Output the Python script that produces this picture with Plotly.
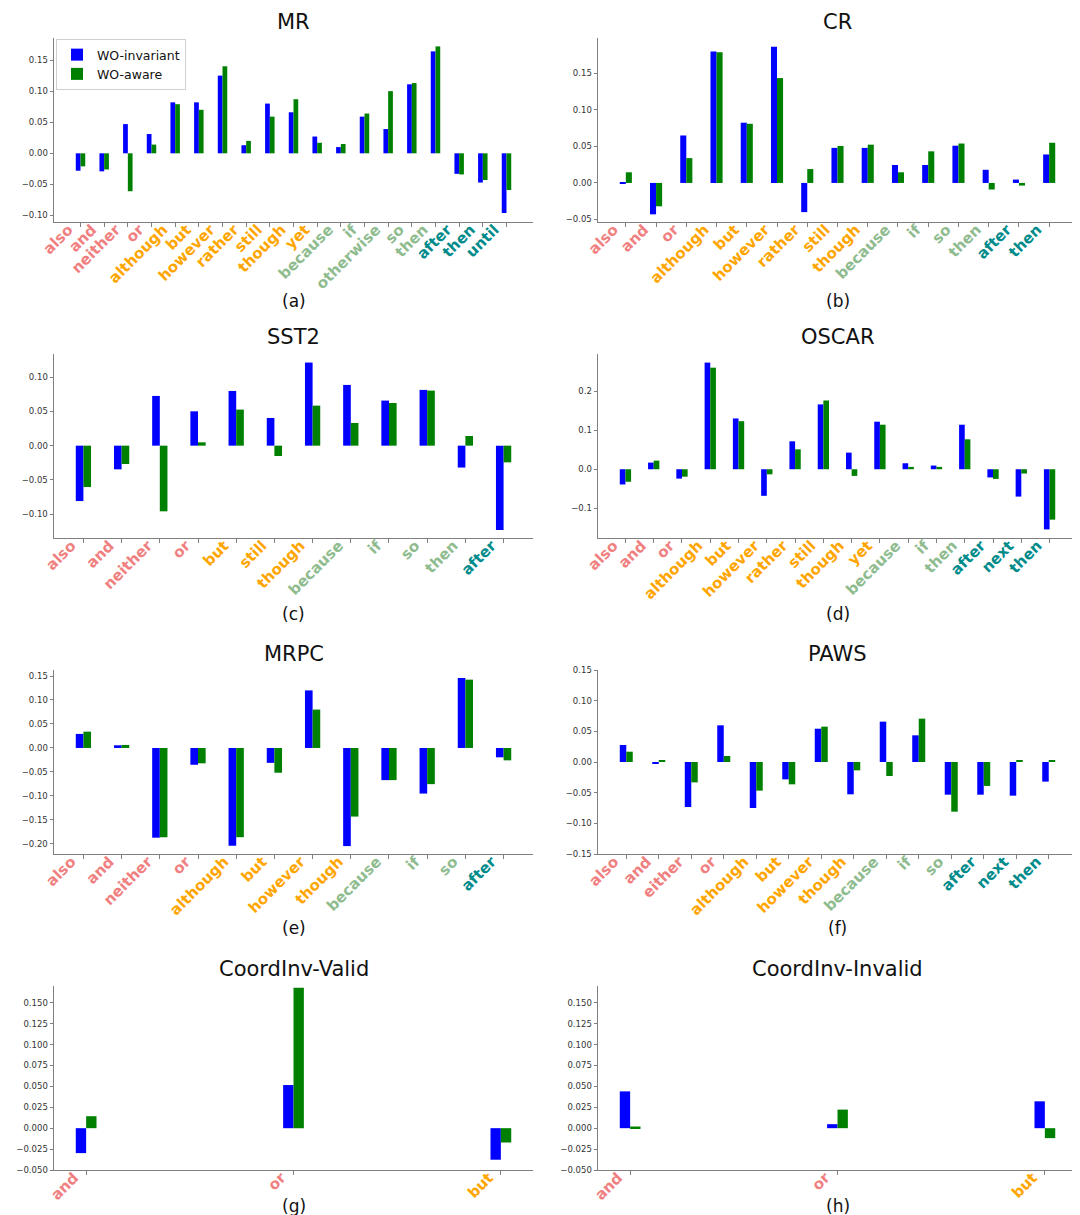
import plotly.graph_objects as go

W, H = 1080, 1215
BLUE = "#0000FF"
GREEN = "#008000"
GROUP_COLORS = {"C": "#F08080", "O": "#FFA500", "G": "#8FBC8F", "T": "#008B8B"}

# ---------------- data ----------------
mr_labels = ["also", "and", "neither", "or", "although", "but", "however", "rather", "still", "though", "yet",
             "because", "if", "otherwise", "so", "then", "after", "then", "until"]
mr_groups = ["C", "C", "C", "C", "O", "O", "O", "O", "O", "O", "O", "G", "G", "G", "G", "G", "T", "T", "T"]
mr_blue = [-0.028, -0.029, 0.047, 0.031, 0.082, 0.082, 0.125, 0.013, 0.080, 0.066, 0.027,
           0.010, 0.059, 0.039, 0.111, 0.164, -0.033, -0.047, -0.096]
mr_green = [-0.021, -0.026, -0.061, 0.014, 0.079, 0.070, 0.140, 0.020, 0.059, 0.087, 0.017,
            0.015, 0.064, 0.100, 0.113, 0.172, -0.034, -0.043, -0.059]

cr_labels = ["also", "and", "or", "although", "but", "however", "rather", "still", "though",
             "because", "if", "so", "then", "after", "then"]
cr_groups = ["C", "C", "C", "O", "O", "O", "O", "O", "O", "G", "G", "G", "G", "T", "T"]
cr_blue = [-0.001, -0.043, 0.065, 0.180, 0.0825, 0.1865, -0.040, 0.048, 0.048,
           0.0246, 0.0246, 0.051, 0.018, 0.0046, 0.039]
cr_green = [0.0146, -0.032, 0.034, 0.179, 0.081, 0.1436, 0.019, 0.0506, 0.0524,
            0.0146, 0.0433, 0.054, -0.009, -0.0036, 0.055]

sst_labels = ["also", "and", "neither", "or", "but", "still", "though", "because", "if", "so", "then", "after"]
sst_groups = ["C", "C", "C", "C", "O", "O", "O", "G", "G", "G", "G", "T"]
sst_blue = [-0.081, -0.0346, 0.0727, 0.0502, 0.080, 0.0405, 0.1215, 0.0888, 0.0659, 0.0815, -0.032, -0.1234]
sst_green = [-0.0605, -0.0268, -0.096, 0.0049, 0.0527, -0.0151, 0.0585, 0.0332, 0.0624, 0.0805, 0.0141, -0.0244]

oscar_labels = ["also", "and", "or", "although", "but", "however", "rather", "still", "though", "yet",
                "because", "if", "then", "after", "next", "then"]
oscar_groups = ["C", "C", "C", "O", "O", "O", "O", "O", "O", "O", "G", "G", "G", "T", "T", "T"]
oscar_blue = [-0.039, 0.017, -0.024, 0.273, 0.130, -0.068, 0.0715, 0.166, 0.0425, 0.1217,
              0.0153, 0.0094, 0.114, -0.021, -0.070, -0.154]
oscar_green = [-0.032, 0.022, -0.019, 0.260, 0.123, -0.013, 0.051, 0.176, -0.017, 0.114,
               0.006, 0.006, 0.0766, -0.0247, -0.011, -0.129]

mrpc_labels = ["also", "and", "neither", "or", "although", "but", "however", "though", "because", "if", "so", "after"]
mrpc_groups = ["C", "C", "C", "C", "O", "O", "O", "O", "G", "G", "G", "T"]
mrpc_blue = [0.0293, 0.0056, -0.187, -0.035, -0.204, -0.031, 0.120, -0.2045, -0.067, -0.095, 0.1458, -0.0195]
mrpc_green = [0.034, 0.0063, -0.186, -0.032, -0.186, -0.0516, 0.080, -0.143, -0.067, -0.0754, 0.1424, -0.0258]

paws_labels = ["also", "and", "either", "or", "although", "but", "however", "though", "because", "if", "so",
               "after", "next", "then"]
paws_groups = ["C", "C", "C", "C", "O", "O", "O", "O", "G", "G", "G", "T", "T", "T"]
paws_blue = [0.0277, -0.0027, -0.0734, 0.0598, -0.075, -0.0283, 0.0543, -0.0527, 0.0658, 0.0435, -0.0533,
             -0.0533, -0.0549, -0.032]
paws_green = [0.0168, 0.002, -0.0332, 0.0098, -0.0467, -0.0364, 0.0576, -0.0136, -0.0228, 0.0707, -0.081,
              -0.039, 0.002, 0.003]

cv_labels = ["and", "or", "but"]
cv_groups = ["C", "C", "O"]
cv_blue = [-0.0298, 0.0516, -0.0377]
cv_green = [0.0143, 0.168, -0.0171]

ci_labels = ["and", "or", "but"]
ci_groups = ["C", "C", "O"]
ci_blue = [0.044, 0.0048, 0.0321]
ci_green = [0.002, 0.0222, -0.0119]

series_names = ["WO-invariant", "WO-aware"]

panels = [
    dict(title="MR", tag="(a)", labels=mr_labels, groups=mr_groups, blue=mr_blue, green=mr_green,
         yr=[-0.1105, 0.1855], dtick=0.05, fmt=".2f", w=0.2),
    dict(title="CR", tag="(b)", labels=cr_labels, groups=cr_groups, blue=cr_blue, green=cr_green,
         yr=[-0.0535, 0.1985], dtick=0.05, fmt=".2f", w=0.2),
    dict(title="SST2", tag="(c)", labels=sst_labels, groups=sst_groups, blue=sst_blue, green=sst_green,
         yr=[-0.135, 0.134], dtick=0.05, fmt=".2f", w=0.2),
    dict(title="OSCAR", tag="(d)", labels=oscar_labels, groups=oscar_groups, blue=oscar_blue, green=oscar_green,
         yr=[-0.176, 0.295], dtick=0.1, fmt=".1f", w=0.2),
    dict(title="MRPC", tag="(e)", labels=mrpc_labels, groups=mrpc_groups, blue=mrpc_blue, green=mrpc_green,
         yr=[-0.221, 0.1625], dtick=0.05, fmt=".2f", w=0.2),
    dict(title="PAWS", tag="(f)", labels=paws_labels, groups=paws_groups, blue=paws_blue, green=paws_green,
         yr=[-0.15, 0.15], dtick=0.05, fmt=".2f", w=0.2),
    dict(title="CoordInv-Valid", tag="(g)", labels=cv_labels, groups=cv_groups, blue=cv_blue, green=cv_green,
         yr=[-0.05, 0.170], dtick=0.025, fmt=".3f", w=0.05),
    dict(title="CoordInv-Invalid", tag="(h)", labels=ci_labels, groups=ci_groups, blue=ci_blue, green=ci_green,
         yr=[-0.05, 0.170], dtick=0.025, fmt=".3f", w=0.05),
]

# ---------------- layout geometry (pixels) ----------------
col_x = [(46, 525), (590, 1069)]
row_y = [(30, 214), (346, 530), (662, 846), (978, 1162)]
title_y = [14, 329, 646, 961]
tag_y = [293, 606, 920, 1198]

fig = go.Figure()
layout = dict(width=W, height=H, margin=dict(l=0, r=0, t=0, b=0),
              paper_bgcolor="white", plot_bgcolor="white", barmode="overlay",
              font=dict(family="DejaVu Sans", color="#222"),
              showlegend=True,
              legend=dict(x=48 / W, y=1 - 31 / H, xanchor="left", yanchor="top",
                          bgcolor="rgba(255,255,255,0.9)", bordercolor="#d0d0d0", borderwidth=1,
                          font=dict(size=12.5, family="DejaVu Sans", color="#111"),
                          tracegroupgap=0, itemwidth=30))
annotations = []

for i, p in enumerate(panels):
    r, c = divmod(i, 2)
    k = "" if i == 0 else str(i + 1)
    xa, ya = "x" + k, "y" + k
    n = len(p["labels"])
    w = p["w"]
    pos = list(range(n))
    pad = 0.05 * ((n - 1) + 2 * w)
    xr = [-w - pad, (n - 1) + w + pad]
    ticktext = ["<b><span style='color:%s'>%s</span></b>" % (GROUP_COLORS[g], lab)
                for lab, g in zip(p["labels"], p["groups"])]
    fig.add_trace(go.Bar(x=pos, y=p["blue"], width=w, offset=-w, marker=dict(color=BLUE, line=dict(width=0)),
                         name=series_names[0], showlegend=(i == 0), xaxis=xa, yaxis=ya))
    fig.add_trace(go.Bar(x=pos, y=p["green"], width=w, offset=0, marker=dict(color=GREEN, line=dict(width=0)),
                         name=series_names[1], showlegend=(i == 0), xaxis=xa, yaxis=ya))
    x0, x1 = col_x[c]
    y0, y1 = row_y[r]
    layout["xaxis" + k] = dict(domain=[x0 / W, x1 / W], anchor=ya, range=xr, tickmode="array",
                               tickvals=pos, ticktext=ticktext, tickangle=-45,
                               tickfont=dict(size=15, family="DejaVu Sans"),
                               ticklabelshift=-12, ticklabelstandoff=-12,
                               showline=True, linecolor="#7f7f7f", linewidth=1, mirror=False,
                               ticks="outside", ticklen=4, tickcolor="#7f7f7f",
                               showgrid=False, zeroline=False, automargin=False, fixedrange=True)
    layout["yaxis" + k] = dict(domain=[1 - y1 / H, 1 - y0 / H], anchor=xa, range=p["yr"],
                               dtick=p["dtick"], tick0=0, tickformat=p["fmt"],
                               tickfont=dict(size=8.5, family="DejaVu Sans", color="#333"),
                               showline=True, linecolor="#7f7f7f", linewidth=1,
                               ticks="outside", ticklen=3.5, tickcolor="#7f7f7f",
                               showgrid=False, zeroline=False, automargin=False, fixedrange=True)
    cx = (x0 + x1) / 2
    annotations.append(dict(text=p["title"], x=cx / W, y=1 - title_y[r] / H, xref="paper", yref="paper",
                            xanchor="center", yanchor="middle", showarrow=False,
                            font=dict(size=21, family="DejaVu Sans", color="#111")))
    annotations.append(dict(text=p["tag"], x=cx / W, y=1 - tag_y[r] / H, xref="paper", yref="paper",
                            xanchor="center", yanchor="middle", showarrow=False,
                            font=dict(size=17, family="DejaVu Sans", color="#111")))

layout["annotations"] = annotations
fig.update_layout(**layout)
fig.write_html("out.html")
